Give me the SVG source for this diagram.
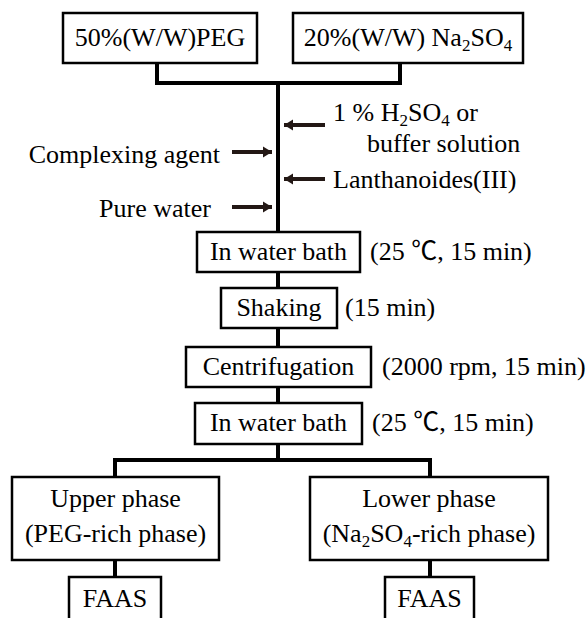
<svg xmlns="http://www.w3.org/2000/svg" width="588" height="618" viewBox="0 0 588 618" font-family="'Liberation Serif', Tinos, 'Times New Roman', 'Noto Sans CJK SC', serif">
<defs>
<style>
.t{font-family:'Liberation Serif',Tinos,'Times New Roman','Noto Sans CJK SC',serif;font-size:26px;fill:#000}
.m{text-anchor:middle}
.e{text-anchor:end}
.box{fill:#fff;stroke:#000;stroke-width:2.5}
.con{fill:none;stroke:#000;stroke-width:4}
.arr{fill:none;stroke:#231815;stroke-width:4}
.sub{font-size:17px}
</style>
<marker id="ah" markerUnits="userSpaceOnUse" markerWidth="10" markerHeight="12" viewBox="0 0 10 12" refX="9" refY="6" orient="auto">
<path d="M0,0.5 L9,6 L0,11.5 Z" fill="#231815"/>
</marker>
</defs>
<rect width="588" height="618" fill="#fff"/>
<g id="connectors">
<polyline class="con" points="157,63 157,83 400,83 400,63"/>
<line class="con" x1="278" y1="83" x2="278" y2="233"/>
<line class="con" x1="278" y1="272" x2="278" y2="288"/>
<line class="con" x1="278" y1="328" x2="278" y2="347"/>
<line class="con" x1="278" y1="387" x2="278" y2="403"/>
<line class="con" x1="278" y1="444" x2="278" y2="460"/>
<polyline class="con" points="115,477 115,460 430,460 430,477"/>
<line class="con" x1="115" y1="560" x2="115" y2="577"/>
<line class="con" x1="430" y1="560" x2="430" y2="577"/>
<line class="arr" x1="325" y1="125" x2="284" y2="125" marker-end="url(#ah)"/>
<line class="arr" x1="325" y1="179" x2="284" y2="179" marker-end="url(#ah)"/>
<line class="arr" x1="232" y1="152" x2="272" y2="152" marker-end="url(#ah)"/>
<line class="arr" x1="232" y1="207" x2="272" y2="207" marker-end="url(#ah)"/>
</g>
<g id="peg">
<rect class="box" x="63" y="13" width="194" height="50"/>
<text class="t m" x="160" y="46">50%(W/W)PEG</text>
</g>
<g id="na2so4">
<rect class="box" x="293" y="13" width="230" height="50"/>
<text class="t m" x="408" y="46">20%(W/W) Na<tspan class="sub" dy="5">2</tspan><tspan dy="-5">SO</tspan><tspan class="sub" dy="5">4</tspan></text>
</g>
<g id="acid">
<text class="t" x="333" y="121">1 % H<tspan class="sub" dy="5">2</tspan><tspan dy="-5">SO</tspan><tspan class="sub" dy="5">4</tspan><tspan dy="-5"> or</tspan></text>
<text class="t" x="367" y="152">buffer solution</text>
</g>
<g id="complexing">
<text class="t e" x="220" y="163">Complexing agent</text>
</g>
<g id="lanthanoides">
<text class="t" x="333" y="188">Lanthanoides(III)</text>
</g>
<g id="water">
<text class="t e" x="211" y="217">Pure water</text>
</g>
<g id="bath1">
<rect class="box" x="197" y="232" width="163" height="40"/>
<text class="t m" x="278.5" y="260">In water bath</text>
<text class="t" x="370" y="260">(25 ℃, 15 min)</text>
</g>
<g id="shaking">
<rect class="box" x="221" y="288" width="116" height="40"/>
<text class="t m" x="279" y="316">Shaking</text>
<text class="t" x="345" y="316">(15 min)</text>
</g>
<g id="centrifugation">
<rect class="box" x="186" y="347" width="185" height="40"/>
<text class="t m" x="278.5" y="375">Centrifugation</text>
<text class="t" x="382" y="375">(2000 rpm, 15 min)</text>
</g>
<g id="bath2">
<rect class="box" x="195" y="403" width="167" height="41"/>
<text class="t m" x="278.5" y="431">In water bath</text>
<text class="t" x="372" y="431">(25 ℃, 15 min)</text>
</g>
<g id="upper">
<rect class="box" x="12" y="477" width="207" height="83"/>
<text class="t m" x="115.5" y="507">Upper phase</text>
<text class="t m" x="115.5" y="542">(PEG-rich phase)</text>
</g>
<g id="lower">
<rect class="box" x="310" y="477" width="238" height="83"/>
<text class="t m" x="429" y="507">Lower phase</text>
<text class="t m" x="429" y="542">(Na<tspan class="sub" dy="5">2</tspan><tspan dy="-5">SO</tspan><tspan class="sub" dy="5">4</tspan><tspan dy="-5">-rich phase)</tspan></text>
</g>
<g id="faas1">
<rect class="box" x="69" y="577" width="92" height="50"/>
<text class="t m" x="115" y="607">FAAS</text>
</g>
<g id="faas2">
<rect class="box" x="385" y="577" width="89" height="50"/>
<text class="t m" x="429.5" y="607">FAAS</text>
</g>
</svg>
